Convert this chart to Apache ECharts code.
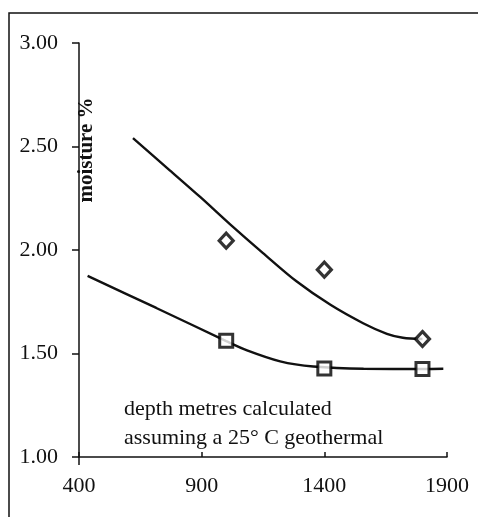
<!DOCTYPE html>
<html>
<head>
<meta charset="utf-8">
<script src="https://cdn.jsdelivr.net/npm/echarts@6/dist/echarts.min.js"></script>
<style>
html,body{margin:0;padding:0;background:#fff;overflow:hidden;}
#chart{width:478px;height:517px;}
</style>
</head>
<body>
<div id="chart"></div>
<script>
// Axis ticks
var xTicks = [400, 900, 1400, 1900];
var yTicks = [1.00, 1.50, 2.00, 2.50, 3.00];

// Measured points
var diamondX = [1000, 1400, 1800];
var diamondY = [2.045, 1.905, 1.57];
var squareX = [1000, 1400, 1800];
var squareY = [1.562, 1.428, 1.425];

// Trend curves
var upperX = [620, 770, 895, 1015, 1150, 1285, 1425, 1560, 1655, 1720, 1800];
var upperY = [2.54, 2.385, 2.255, 2.125, 1.985, 1.85, 1.735, 1.645, 1.595, 1.576, 1.57];
var lowerX = [435, 715, 1000, 1085, 1220, 1355, 1560, 1800, 1885];
var lowerY = [1.875, 1.72, 1.56, 1.515, 1.462, 1.437, 1.426, 1.425, 1.426];

var yAxisTitle = 'moisture %';
var noteLines = ['depth metres calculated', 'assuming a 25\u00b0 C geothermal'];

function pairs(xs, ys) { return xs.map(function (x, i) { return [x, ys[i]]; }); }

var ink = '#111111';
var font = '"Liberation Serif", "DejaVu Serif", serif';

var chart = echarts.init(document.getElementById('chart'), null, {renderer: 'canvas'});
chart.setOption({
  backgroundColor: '#ffffff',
  animation: false,
  grid: {left: 79, top: 43, right: 31, bottom: 60, containLabel: false},
  xAxis: {
    type: 'value', min: xTicks[0], max: xTicks[xTicks.length - 1], interval: 500,
    axisLine: {onZero: false, lineStyle: {color: ink, width: 1.5}},
    axisTick: {inside: true, length: 5, lineStyle: {color: ink, width: 1.5}},
    axisLabel: {color: ink, fontFamily: font, fontSize: 22, margin: 18,
      formatter: function (v) { return String(v); }},
    splitLine: {show: false}
  },
  yAxis: {
    type: 'value', min: yTicks[0], max: yTicks[yTicks.length - 1], interval: 0.5,
    axisLine: {show: true, onZero: false, lineStyle: {color: ink, width: 1.5}},
    axisTick: {show: true, inside: false, length: 7, lineStyle: {color: ink, width: 1.5}},
    axisLabel: {color: ink, fontFamily: font, fontSize: 22, margin: 21,
      formatter: function (v) { return v.toFixed(2); }},
    splitLine: {show: false}
  },
  graphic: [
    {type: 'polyline', shape: {points: [[9, 520], [9, 13], [480, 13]]},
      style: {stroke: ink, lineWidth: 1.5, fill: null}},
    {type: 'line', shape: {x1: 79, y1: 457, x2: 79, y2: 465}, style: {stroke: ink, lineWidth: 1.5}},
    {type: 'text', x: 87, y: 150, rotation: Math.PI / 2,
      style: {text: yAxisTitle, fill: ink, font: 'bold 21px ' + font, align: 'center', verticalAlign: 'middle'}},
    {type: 'text', left: 124, top: 395,
      style: {text: noteLines.join('\n'), fill: ink, font: '22px ' + font, lineHeight: 29}}
  ],
  series: [
    {type: 'line', data: pairs(upperX, upperY), smooth: 0.3, showSymbol: false,
      lineStyle: {color: ink, width: 2.4}, z: 2},
    {type: 'line', data: pairs(lowerX, lowerY), smooth: 0.3, showSymbol: false,
      lineStyle: {color: ink, width: 2.4}, z: 2},
    {type: 'scatter', data: pairs(diamondX, diamondY), symbol: 'diamond', symbolSize: [14, 15],
      itemStyle: {color: '#ffffff', borderColor: '#000', borderWidth: 3.2}, z: 3},
    {type: 'scatter', data: pairs(squareX, squareY), symbol: 'rect', symbolSize: 13,
      itemStyle: {color: '#ffffff', borderColor: '#000', borderWidth: 3}, z: 3}
  ]
});
</script>
</body>
</html>
